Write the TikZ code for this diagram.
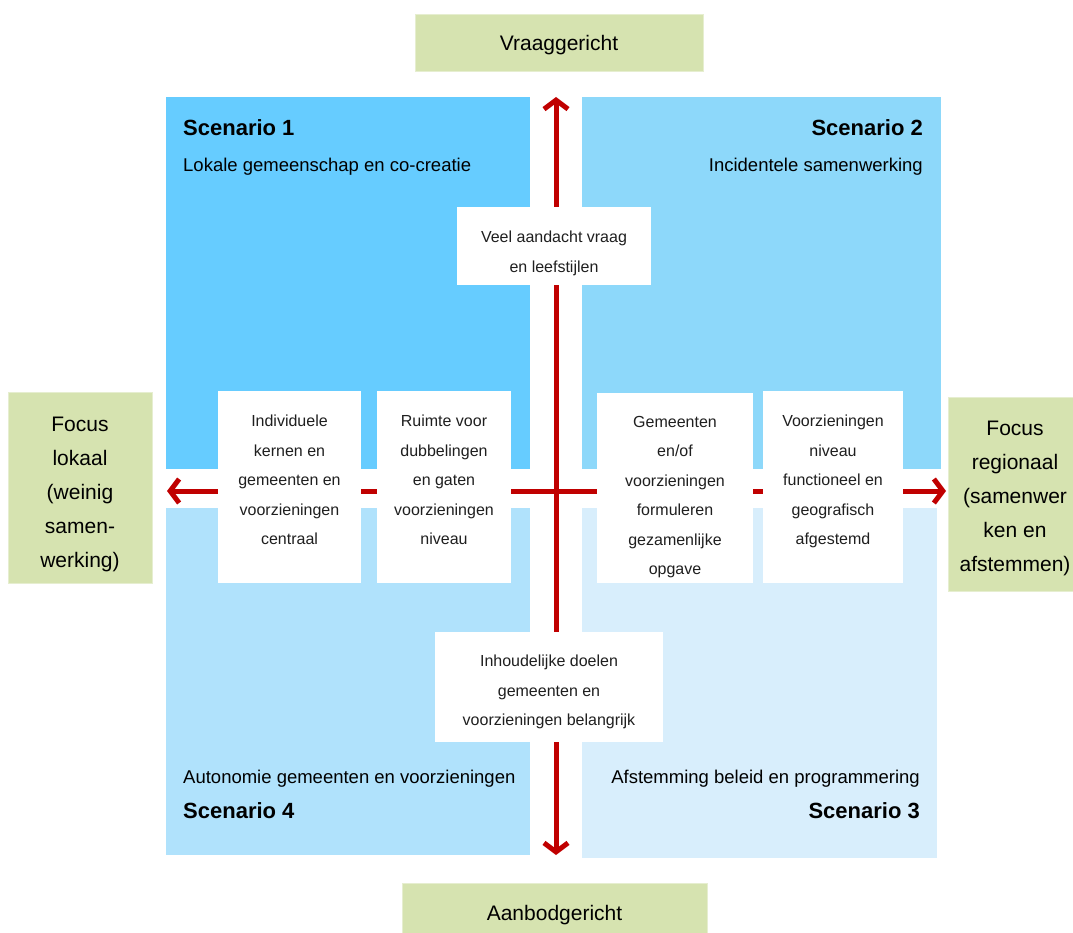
\documentclass[tikz,border=0pt]{standalone}
\usepackage{fontspec}
\setmainfont{Liberation Sans}
\usetikzlibrary{arrows.meta}
\definecolor{SceneA}{HTML}{66CCFF}
\definecolor{SceneB}{HTML}{8DD8FA}
\definecolor{SceneC}{HTML}{D8EEFC}
\definecolor{SceneD}{HTML}{B0E2FC}
\definecolor{GoalGreen}{HTML}{D6E3B0}
\definecolor{AxisRed}{HTML}{C00000}
\tikzstyle{Quad}=[inner sep=0pt, outer sep=0pt]
\tikzstyle{Box}=[fill=white, align=center, inner sep=0pt, text=black!88, font=\fontsize{16}{29.5}\selectfont]
\tikzstyle{Goal}=[fill=GoalGreen, draw=GoalGreen!60!white, align=center, inner sep=0pt, font=\fontsize{21}{34}\selectfont]
\tikzstyle{Title}=[inner sep=0pt, font=\fontsize{22}{26}\selectfont\bfseries]
\tikzstyle{Sub}=[inner sep=0pt, font=\fontsize{18.5}{22}\selectfont]
\tikzstyle{Line}=[{Straight Barb[length=9pt,width=24pt]}-{Straight Barb[length=9pt,width=24pt]}, line width=5pt, draw=AxisRed]

\begin{document}
\begin{tikzpicture}[x=1pt, y=-1pt]

    \useasboundingbox (0,0) rectangle (1073,933);
    \clip (0,0) rectangle (1073,933);

    % quadrants
    \node[Quad,fill=SceneA,minimum width=364pt,minimum height=372pt] (sc1) at (348,283) {};
    \node[Quad,fill=SceneB,minimum width=359pt,minimum height=372pt] (sc2) at (761.5,283) {};
    \node[Quad,fill=SceneC,minimum width=355pt,minimum height=350pt] (sc3) at (759.5,683) {};
    \node[Quad,fill=SceneD,minimum width=364pt,minimum height=347pt] (sc4) at (348,681.5) {};

    \node[Title,anchor=base west] (tt1) at (183,136) {Scenario 1};
    \node[Sub,anchor=base west] (st1) at (183,172) {Lokale gemeenschap en co-creatie};
    \node[Title,anchor=base east] (tt2) at (923,136) {Scenario 2};
    \node[Sub,anchor=base east] (st2) at (923,172) {Incidentele samenwerking};
    \node[Sub,anchor=base east] (st3) at (920,783) {Afstemming beleid en programmering};
    \node[Title,anchor=base east] (tt3) at (920,818) {Scenario 3};
    \node[Sub,anchor=base west] (st4) at (183,783) {Autonomie gemeenten en voorzieningen};
    \node[Title,anchor=base west] (tt4) at (183,818) {Scenario 4};

    % end points
    \node[Goal,minimum width=288pt,minimum height=57pt,text height=21pt] (vra) at (559,42.5) {Vraaggericht};
    \node[Goal,minimum width=305pt,minimum height=57pt,text height=23pt] (aan) at (554.5,911.5) {Aanbodgericht};
    \node[Goal,minimum width=144pt,minimum height=191pt,text height=165pt] (lok) at (80,487.5) {Focus\\lokaal\\(weinig\\samen-\\werking)};
    \node[Goal,minimum width=134pt,minimum height=194pt,text height=159pt] (reg) at (1015,494) {Focus\\regionaal\\(samenwer\\ken en\\afstemmen)};

    % axes
    \coordinate (top) at (556,97);
    \coordinate (bot) at (556,855);
    \coordinate (lft) at (167,491);
    \coordinate (rgt) at (946,491);

    \draw[Line] (bot) to (top);
    \draw[Line] (lft) to (rgt);

    % white boxes
    \node[Box,minimum width=194pt,minimum height=78pt,text height=56pt] (vee) at (554,246) {Veel aandacht vraag\\en leefstijlen};
    \node[Box,minimum width=228pt,minimum height=110pt,text height=80.5pt] (inh) at (549,687) {Inhoudelijke doelen\\gemeenten en\\voorzieningen belangrijk};
    \node[Box,minimum width=143pt,minimum height=192pt,text depth=14pt] (ind) at (289.5,487) {Individuele\\kernen en\\gemeenten en\\voorzieningen\\centraal};
    \node[Box,minimum width=134pt,minimum height=192pt,text depth=14pt] (rui) at (444,487) {Ruimte voor\\dubbelingen\\en gaten\\voorzieningen\\niveau};
    \node[Box,minimum width=156pt,minimum height=190pt,text height=177pt] (gem) at (675,488) {Gemeenten\\en/of\\voorzieningen\\formuleren\\gezamenlijke\\opgave};
    \node[Box,minimum width=140pt,minimum height=192pt,text depth=14pt] (voo) at (833,487) {Voorzieningen\\niveau\\functioneel en\\geografisch\\afgestemd};

\end{tikzpicture}
\end{document}
